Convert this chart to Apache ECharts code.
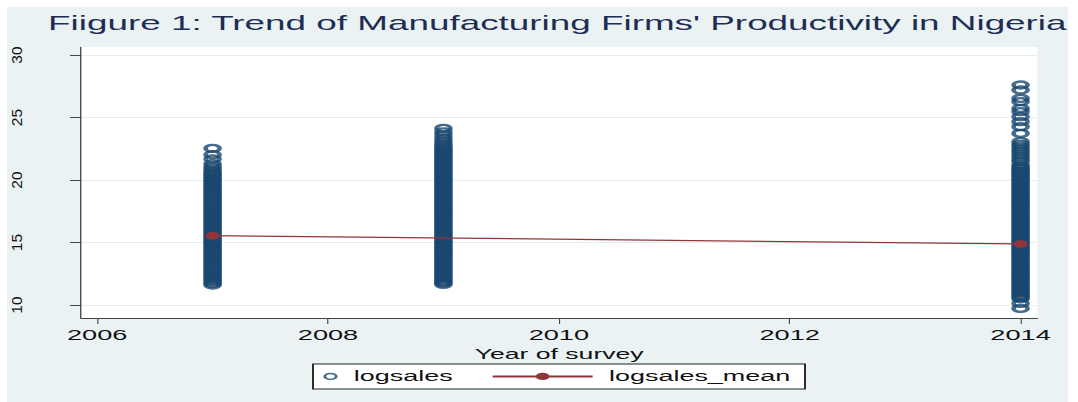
<!DOCTYPE html>
<html>
<head>
<meta charset="utf-8">
<script src="https://cdn.jsdelivr.net/npm/echarts@6/dist/echarts.min.js"></script>
<style>
  html, body { margin: 0; padding: 0; background: #ffffff; width: 1078px; height: 402px; overflow: hidden; }
  #bg { position: absolute; left: 7px; top: 7px; width: 1061px; height: 395px; background: #EAF2F3; }
  #main { position: absolute; left: 0; top: 0; width: 567.368px; height: 402px; transform: scaleX(1.9); transform-origin: 0 0; }
  #ylab { position: absolute; left: 0; top: 0; width: 1078px; height: 402px; pointer-events: none; }
</style>
</head>
<body>
<div id="bg"></div>
<div id="main"></div>
<div id="ylab"></div>
<script>
// ---- data ----
const titleText = "Fiigure 1: Trend of Manufacturing Firms' Productivity in Nigeria";
const xTicks = [2006, 2008, 2010, 2012, 2014];
const yTicks = [10, 15, 20, 25, 30];
const xName = 'Year of survey';
const seriesNames = ['logsales', 'logsales_mean'];

const logsales2007 = [22.53, 22.02, 21.68, 21.3, 21.07, 20.9, 20.72, 20.6, 20.47, 20.36, 20.22, 20.11, 19.98, 19.86, 19.73, 19.62, 19.5, 19.38, 19.25, 19.14, 19.0, 18.89, 18.77, 18.64, 18.53, 18.4, 18.27, 18.16, 18.03, 17.91, 17.79, 17.66, 17.55, 17.42, 17.31, 17.18, 17.05, 16.94, 16.81, 16.7, 16.57, 16.45, 16.34, 16.2, 16.09, 15.96, 15.84, 15.73, 15.6, 15.48, 15.36, 15.23, 15.12, 14.99, 14.87, 14.76, 14.62, 14.51, 14.38, 14.26, 14.15, 14.02, 13.9, 13.78, 13.65, 13.54, 13.41, 13.29, 13.18, 13.05, 12.93, 12.81, 12.68, 12.57, 12.44, 12.32, 12.21, 12.08, 11.96, 11.85, 11.72, 11.6];
const logsales2009 = [24.13, 23.85, 23.62, 23.38, 23.18, 22.98, 22.82, 22.68, 22.55, 22.43, 22.31, 22.2, 22.07, 21.95, 21.84, 21.71, 21.59, 21.48, 21.35, 21.23, 21.12, 20.99, 20.87, 20.76, 20.63, 20.51, 20.4, 20.27, 20.15, 20.04, 19.91, 19.79, 19.68, 19.55, 19.43, 19.32, 19.19, 19.07, 18.96, 18.83, 18.71, 18.6, 18.47, 18.35, 18.24, 18.11, 17.99, 17.88, 17.75, 17.63, 17.52, 17.39, 17.27, 17.16, 17.03, 16.91, 16.8, 16.67, 16.55, 16.44, 16.31, 16.19, 16.08, 15.95, 15.83, 15.72, 15.59, 15.47, 15.36, 15.23, 15.11, 15.0, 14.87, 14.75, 14.64, 14.51, 14.39, 14.28, 14.15, 14.03, 13.92, 13.79, 13.67, 13.56, 13.43, 13.31, 13.2, 13.07, 12.95, 12.84, 12.71, 12.59, 12.48, 12.35, 12.23, 12.12, 11.99, 11.87, 11.76, 11.65];
const logsales2014 = [27.6, 27.2, 26.53, 26.27, 25.73, 25.47, 25.07, 24.67, 24.27, 23.73, 23.07, 22.85, 22.67, 22.45, 22.27, 22.05, 21.87, 21.65, 21.47, 21.2, 21.05, 20.93, 20.8, 20.69, 20.56, 20.44, 20.33, 20.2, 20.08, 19.97, 19.84, 19.72, 19.61, 19.48, 19.36, 19.25, 19.12, 19.0, 18.89, 18.76, 18.64, 18.53, 18.4, 18.28, 18.17, 18.04, 17.92, 17.81, 17.68, 17.56, 17.45, 17.32, 17.2, 17.09, 16.96, 16.84, 16.73, 16.6, 16.48, 16.37, 16.24, 16.12, 16.01, 15.88, 15.76, 15.65, 15.52, 15.4, 15.29, 15.16, 15.04, 14.93, 14.8, 14.68, 14.57, 14.44, 14.32, 14.21, 14.08, 13.96, 13.85, 13.72, 13.6, 13.49, 13.36, 13.24, 13.13, 13.0, 12.88, 12.77, 12.64, 12.52, 12.41, 12.28, 12.16, 12.05, 11.92, 11.8, 11.69, 11.56, 11.44, 11.33, 11.2, 11.08, 10.97, 10.84, 10.72, 10.61, 10.5, 10.13, 9.73];
const meanYears = [2007, 2014];
const meanValues = [15.55, 14.88];

// ---- styling ----
const K = 1.9; // horizontal stretch of the reference
const NAVY = '#1A476F';
const MAROON = '#90353B';
const FONT = 'Liberation Sans, Arial, sans-serif';
const ELLIPSE = 'path://M0,5a5,5 0 1,0 10,0a5,5 0 1,0 -10,0z';
const X_MIN = 2005.86, X_MAX = 2014.145, Y_MIN = 8.96, Y_MAX = 30.64;

const scatterData = []
  .concat(logsales2007.map(v => [2007, v]))
  .concat(logsales2009.map(v => [2009, v]))
  .concat(logsales2014.map(v => [2014, v]));
const meanData = meanYears.map((y, i) => [y, meanValues[i]]);

const chart = echarts.init(document.getElementById('main'), null, { renderer: 'svg' });
chart.setOption({
  animation: false,
  backgroundColor: 'transparent',
  textStyle: { fontFamily: FONT },
  title: {
    text: titleText,
    left: 25.3, top: 14, padding: 0,
    textStyle: { fontFamily: FONT, fontSize: 19.4, fontWeight: 'normal', color: '#1E2D53' }
  },
  grid: {
    left: 81 / K, right: 40 / K, top: 47, bottom: 84,
    show: true, backgroundColor: '#ffffff', borderWidth: 0
  },
  xAxis: {
    type: 'value', min: X_MIN, max: X_MAX,
    name: xName, nameLocation: 'middle', nameGap: 20,
    nameTextStyle: { fontFamily: FONT, fontSize: 14, color: '#111' },
    axisLine: { show: true, lineStyle: { color: '#444', width: 1 } },
    axisTick: { show: true, customValues: xTicks, length: 6, lineStyle: { color: '#444', width: 0.6 } },
    axisLabel: { show: true, customValues: xTicks, margin: 10, fontFamily: FONT, fontSize: 14.3, color: '#111', formatter: v => String(v) },
    splitLine: { show: false }
  },
  yAxis: {
    type: 'value', min: Y_MIN, max: Y_MAX,
    axisLine: { show: true, lineStyle: { color: '#444', width: 0.7 } },
    axisTick: { show: true, customValues: yTicks, length: 11 / K, lineStyle: { color: '#444', width: 1 } },
    axisLabel: { show: false, customValues: yTicks },
    splitLine: { show: true, lineStyle: { color: '#E4ECEE', width: 1.2 } }
  },
  legend: [
    {
      data: [{ name: seriesNames[0], icon: ELLIPSE,
               itemStyle: { color: 'rgba(0,0,0,0)', borderColor: NAVY, borderWidth: 1.5 } }],
      left: 170.2, top: 369.4, padding: 0,
      itemWidth: 6.5, itemHeight: 6,
      textStyle: { fontFamily: FONT, fontSize: 14.2, color: '#111', padding: [0, 0, 0, 4] },
      selectedMode: false
    },
    {
      data: [seriesNames[1]],
      left: 258.3, top: 369.4, padding: 0,
      itemWidth: 52.6, itemHeight: 9,
      textStyle: { fontFamily: FONT, fontSize: 14.2, color: '#111', padding: [0, 0, 0, 3.6] },
      selectedMode: false
    }
  ],
  graphic: [
    { type: 'rect', z: 3, shape: { x: 313 / K, y: 364, width: 492 / K, height: 25 },
      style: { fill: '#ffffff', stroke: '#222', lineWidth: 1 } }
  ],
  series: [
    {
      name: seriesNames[0], type: 'scatter', data: scatterData,
      symbol: ELLIPSE, symbolSize: [7.4, 7],
      itemStyle: { color: 'rgba(0,0,0,0)', borderColor: NAVY, borderWidth: 2.4 },
      z: 2, silent: true
    },
    {
      name: seriesNames[1], type: 'line', data: meanData,
      symbol: ELLIPSE, symbolSize: [7.5, 8], showSymbol: true,
      itemStyle: { color: MAROON },
      lineStyle: { color: MAROON, width: 1.3 },
      z: 3, silent: true
    }
  ]
});

// y-axis tick labels are not stretched in the reference: separate unstretched overlay
const ylab = echarts.init(document.getElementById('ylab'), null, { renderer: 'svg' });
ylab.setOption({
  animation: false,
  grid: { left: 81, right: 40, top: 47, bottom: 84, show: false },
  xAxis: { type: 'value', min: X_MIN, max: X_MAX, show: false },
  yAxis: {
    type: 'value', min: Y_MIN, max: Y_MAX,
    axisLine: { show: false }, axisTick: { show: false }, splitLine: { show: false },
    axisLabel: { show: true, customValues: yTicks, rotate: 90, margin: 57,
                 fontFamily: FONT, fontSize: 15.5, color: '#111', formatter: v => String(v) }
  },
  series: [{ type: 'scatter', data: [] }]
});
</script>
</body>
</html>
